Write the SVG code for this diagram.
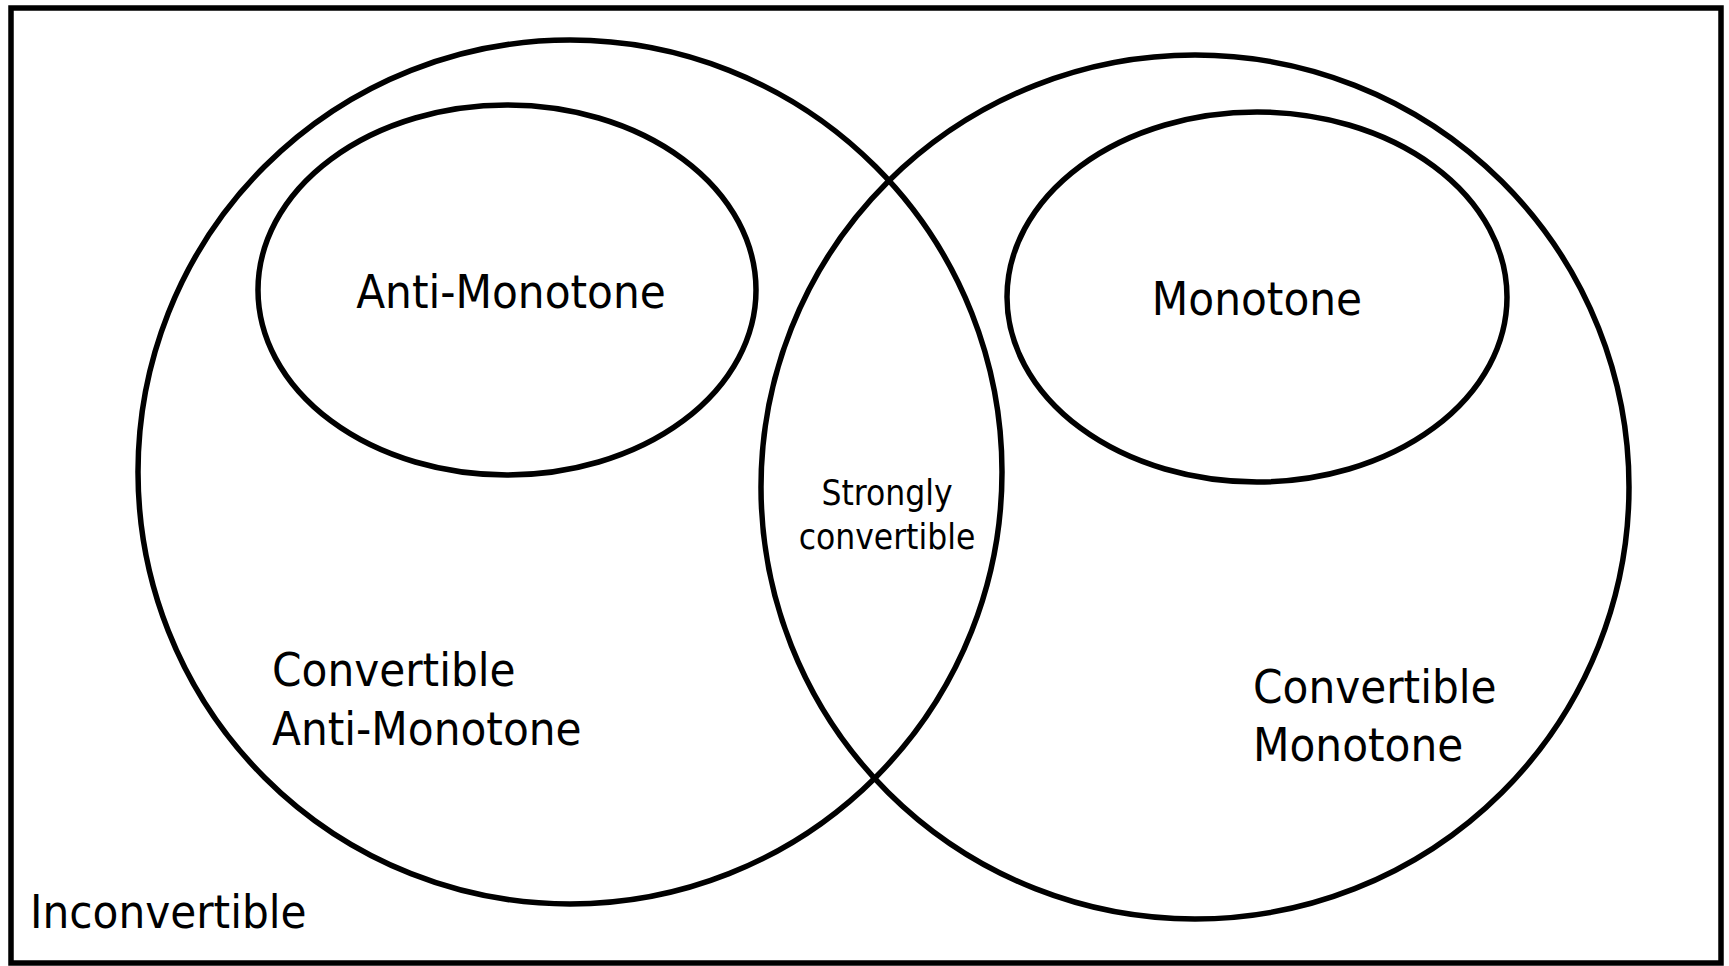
<svg xmlns="http://www.w3.org/2000/svg" width="1729" height="966" viewBox="0 0 1729 966">
  <style>
    .shape { fill: none; stroke: #000; stroke-width: 5.5; }
    .label { font-family: "DejaVu Sans Condensed", "DejaVu Sans", sans-serif; font-stretch: condensed; fill: #000; }
    .big { font-size: 47px; }
    .small { font-size: 35px; }
  </style>
  <rect x="0" y="0" width="1729" height="966" fill="#fff"/>

  <!-- universe: inconvertible constraints -->
  <g id="universe">
    <rect class="shape" x="11" y="8" width="1710" height="955" stroke-width="6"/>
    <text class="label big" x="30" y="928">Inconvertible</text>
  </g>

  <!-- convertible anti-monotone set -->
  <g id="convertible-anti-monotone">
    <ellipse class="shape" cx="570" cy="472" rx="432" ry="432"/>
    <text class="label big" x="272" y="686">Convertible</text>
    <text class="label big" x="272" y="745">Anti-Monotone</text>
  </g>

  <!-- convertible monotone set -->
  <g id="convertible-monotone">
    <ellipse class="shape" cx="1195" cy="487" rx="434" ry="432"/>
    <text class="label big" x="1253" y="703">Convertible</text>
    <text class="label big" x="1253" y="761">Monotone</text>
  </g>

  <!-- anti-monotone subset -->
  <g id="anti-monotone">
    <ellipse class="shape" cx="507" cy="290" rx="249" ry="185"/>
    <text class="label big" x="511" y="308" text-anchor="middle">Anti-Monotone</text>
  </g>

  <!-- monotone subset -->
  <g id="monotone">
    <ellipse class="shape" cx="1257" cy="297" rx="250" ry="185"/>
    <text class="label big" x="1257" y="315" text-anchor="middle">Monotone</text>
  </g>

  <!-- overlap region -->
  <g id="strongly-convertible">
    <text class="label small" x="887" y="505" text-anchor="middle">Strongly</text>
    <text class="label small" x="887" y="549" text-anchor="middle">convertible</text>
  </g>

  <g id="connectors"/>
</svg>
